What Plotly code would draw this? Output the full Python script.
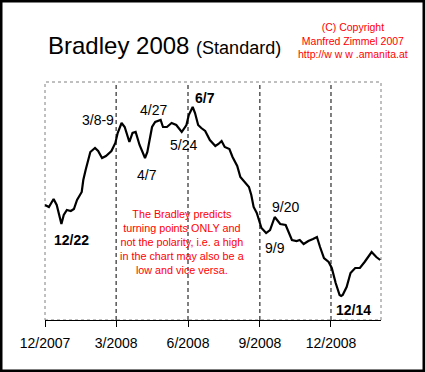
import plotly.graph_objects as go

dates = [
    "2007-12-01", "2007-12-06", "2007-12-12", "2007-12-16", "2007-12-22", "2007-12-25",
    "2007-12-29", "2008-01-03", "2008-01-07", "2008-01-11", "2008-01-17", "2008-01-19",
    "2008-01-22", "2008-01-28", "2008-02-03", "2008-02-07", "2008-02-12", "2008-02-17",
    "2008-02-24", "2008-02-29", "2008-03-03", "2008-03-08", "2008-03-12", "2008-03-18",
    "2008-03-22", "2008-03-26", "2008-03-31", "2008-04-07", "2008-04-10", "2008-04-16",
    "2008-04-20", "2008-04-27", "2008-04-30", "2008-05-05", "2008-05-11", "2008-05-17",
    "2008-05-24", "2008-05-30", "2008-06-02", "2008-06-07", "2008-06-10", "2008-06-14",
    "2008-06-18", "2008-06-23", "2008-06-29", "2008-07-06", "2008-07-10", "2008-07-14",
    "2008-07-18", "2008-07-24", "2008-07-28", "2008-08-03", "2008-08-07", "2008-08-13",
    "2008-08-18", "2008-08-21", "2008-08-24", "2008-08-28", "2008-09-03", "2008-09-09",
    "2008-09-14", "2008-09-20", "2008-09-27", "2008-10-04", "2008-10-12", "2008-10-18",
    "2008-10-22", "2008-10-27", "2008-11-02", "2008-11-08", "2008-11-13", "2008-11-17",
    "2008-11-22", "2008-11-28", "2008-12-02", "2008-12-07", "2008-12-12", "2008-12-14",
    "2008-12-16", "2008-12-21", "2008-12-26", "2009-01-01", "2009-01-07", "2009-01-13",
    "2009-01-22", "2009-01-28", "2009-02-02",
]
bradley = [
    115, 113, 121, 115, 96, 105,
    110, 109, 111, 120, 128, 140,
    150, 168, 172, 169, 162, 164,
    169, 177, 187, 197, 193, 178,
    187, 188, 175, 162, 168, 193,
    198, 200, 193, 193, 197, 195,
    188, 195, 205, 213, 207, 195,
    192, 189, 180, 174, 176, 179,
    173, 171, 163, 154, 143, 137,
    133, 125, 113, 107, 92, 87,
    90, 103, 96, 95, 80, 79,
    80, 76, 79, 81, 83, 73,
    62, 58, 52, 37, 25, 24,
    25, 33, 47, 52, 52, 58,
    68, 63, 60,
]

tick_vals = ["2007-12-01", "2008-03-01", "2008-06-01", "2008-09-01", "2008-12-01"]
tick_text = ["12/2007", "3/2008", "6/2008", "9/2008", "12/2008"]
x_range = ["2007-12-01", "2009-02-03"]
y_range = [0, 238]

# turning point labels
tp_dates = ["2008-01-04", "2008-02-07", "2008-04-18", "2008-06-23", "2008-05-26",
            "2008-04-10", "2008-10-04", "2008-09-20", "2008-12-30"]
tp_values = [80, 200, 210, 222, 175, 145, 113, 72, 10]
tp_texts = ["12/22", "3/8-9", "4/27", "6/7", "5/24", "4/7", "9/20", "9/9", "12/14"]
tp_bold = [True, False, False, True, False, False, False, False, True]

W, H = 425, 372
ML, MR, MT, MB = 45, 44, 82, 52
PW, PH = W - ML - MR, H - MT - MB

fig = go.Figure()
fig.add_trace(go.Scatter(x=dates, y=bradley, mode="lines",
                         line=dict(color="black", width=2.2),
                         hoverinfo="skip", showlegend=False))

shapes = []
# vertical dashed lines at month ticks
for tv in tick_vals[1:]:
    shapes.append(dict(type="line", xref="x", yref="paper", x0=tv, x1=tv, y0=0, y1=1,
                       line=dict(color="black", width=1, dash="4px,3px"), layer="below"))
# dotted gray plot frame
shapes.append(dict(type="rect", xref="paper", yref="paper", x0=0, x1=1, y0=0, y1=1,
                   line=dict(color="#808080", width=1, dash="dot"), layer="below"))
# black figure border
shapes.append(dict(type="rect", xref="paper", yref="paper",
                   x0=-ML / PW, x1=1 + MR / PW, y0=-MB / PH, y1=1 + MT / PH,
                   line=dict(color="black", width=5)))

annotations = []
for d, v, t, b in zip(tp_dates, tp_values, tp_texts, tp_bold):
    annotations.append(dict(x=d, y=v, xref="x", yref="y", text=f"<b>{t}</b>" if b else t,
                            showarrow=False, font=dict(size=14, color="black")))

def px(xp):
    return (xp - ML) / PW

def py(yp):
    return (H - MB - yp) / PH

annotations.append(dict(x=px(46), y=py(45), xref="paper", yref="paper", xanchor="left",
                        yanchor="middle", showarrow=False,
                        text="Bradley 2008 <span style='font-size:18px'>(Standard)</span>",
                        font=dict(size=24, color="black")))
annotations.append(dict(x=px(353), y=py(41), xref="paper", yref="paper", xanchor="center",
                        yanchor="middle", showarrow=False, align="center",
                        text="(C) Copyright<br>Manfred Zimmel 2007<br>http://w w w .amanita.at",
                        font=dict(size=10.5, color="#ff0000")))
annotations.append(dict(x=px(182), y=py(242), xref="paper", yref="paper", xanchor="center",
                        yanchor="middle", showarrow=False, align="center",
                        text="The Bradley predicts<br>turning points ONLY and<br>not the polarity, i.e. a high"
                             "<br>in the chart may also be a<br>low and vice versa.",
                        font=dict(size=10.8, color="#ff0000")))

fig.update_layout(
    width=W, height=H,
    margin=dict(l=ML, r=MR, t=MT, b=MB, pad=0),
    paper_bgcolor="white", plot_bgcolor="white",
    font=dict(family="Liberation Sans, Arial, sans-serif", color="black"),
    shapes=shapes, annotations=annotations, showlegend=False,
    xaxis=dict(type="date", range=x_range, tickvals=tick_vals, ticktext=tick_text,
               showgrid=False, zeroline=False, showline=True, linecolor="black", linewidth=1,
               ticks="outside", ticklen=6, tickcolor="black", tickwidth=1,
               ticklabelstandoff=4,
               tickfont=dict(size=14, color="black")),
    yaxis=dict(range=y_range, visible=False, showgrid=False, zeroline=False),
)

fig.write_html("out.html", config={"displayModeBar": False, "staticPlot": True},
               post_script="document.body.style.margin='0px';document.body.style.overflow='hidden';")
